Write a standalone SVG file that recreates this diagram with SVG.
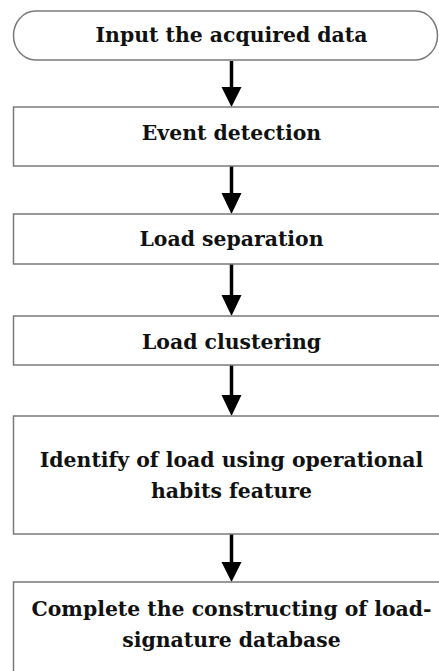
<svg xmlns="http://www.w3.org/2000/svg" width="439" height="671" viewBox="0 0 439 671">
<defs>
<style>
.box{fill:#fff;stroke:#7a7a7a;stroke-width:1.5}
.t{font-family:"DejaVu Serif","Liberation Serif",serif;font-weight:bold;font-size:20.4px;fill:#111;text-anchor:middle}
.shaft{stroke:#000;stroke-width:3.5;fill:none}
.head{fill:#000}
</style>
</defs>
<rect width="439" height="671" fill="#fff"/>
<g id="connectors">
<line class="shaft" x1="231.5" y1="61" x2="231.5" y2="90"/><polygon class="head" points="221.5,87 241.5,87 231.5,107"/>
<line class="shaft" x1="231.5" y1="166" x2="231.5" y2="196"/><polygon class="head" points="221.5,193 241.5,193 231.5,214"/>
<line class="shaft" x1="231.5" y1="264" x2="231.5" y2="298"/><polygon class="head" points="221.5,295 241.5,295 231.5,316"/>
<line class="shaft" x1="231.5" y1="365" x2="231.5" y2="398"/><polygon class="head" points="221.5,395 241.5,395 231.5,416"/>
<line class="shaft" x1="231.5" y1="534" x2="231.5" y2="565"/><polygon class="head" points="221.5,562 241.5,562 231.5,582"/>
</g>
<g id="n1"><rect class="box" x="13.5" y="11" width="424" height="49" rx="22" ry="24.5"/><text class="t" x="231.5" y="42">Input the acquired data</text></g>
<g id="n2"><rect class="box" x="13.5" y="107" width="440" height="59"/><text class="t" x="231.5" y="140">Event detection</text></g>
<g id="n3"><rect class="box" x="13.5" y="214" width="440" height="50"/><text class="t" x="231.5" y="246">Load separation</text></g>
<g id="n4"><rect class="box" x="13.5" y="316" width="440" height="49"/><text class="t" x="231.5" y="349">Load clustering</text></g>
<g id="n5"><rect class="box" x="13.5" y="416" width="440" height="118"/><text class="t" x="231.5" y="467">Identify of load using operational</text><text class="t" x="231.5" y="498">habits feature</text></g>
<g id="n6"><rect class="box" x="13.5" y="582" width="440" height="100"/><text class="t" x="231.5" y="616">Complete the constructing of load-</text><text class="t" x="231.5" y="647">signature database</text></g>
</svg>
